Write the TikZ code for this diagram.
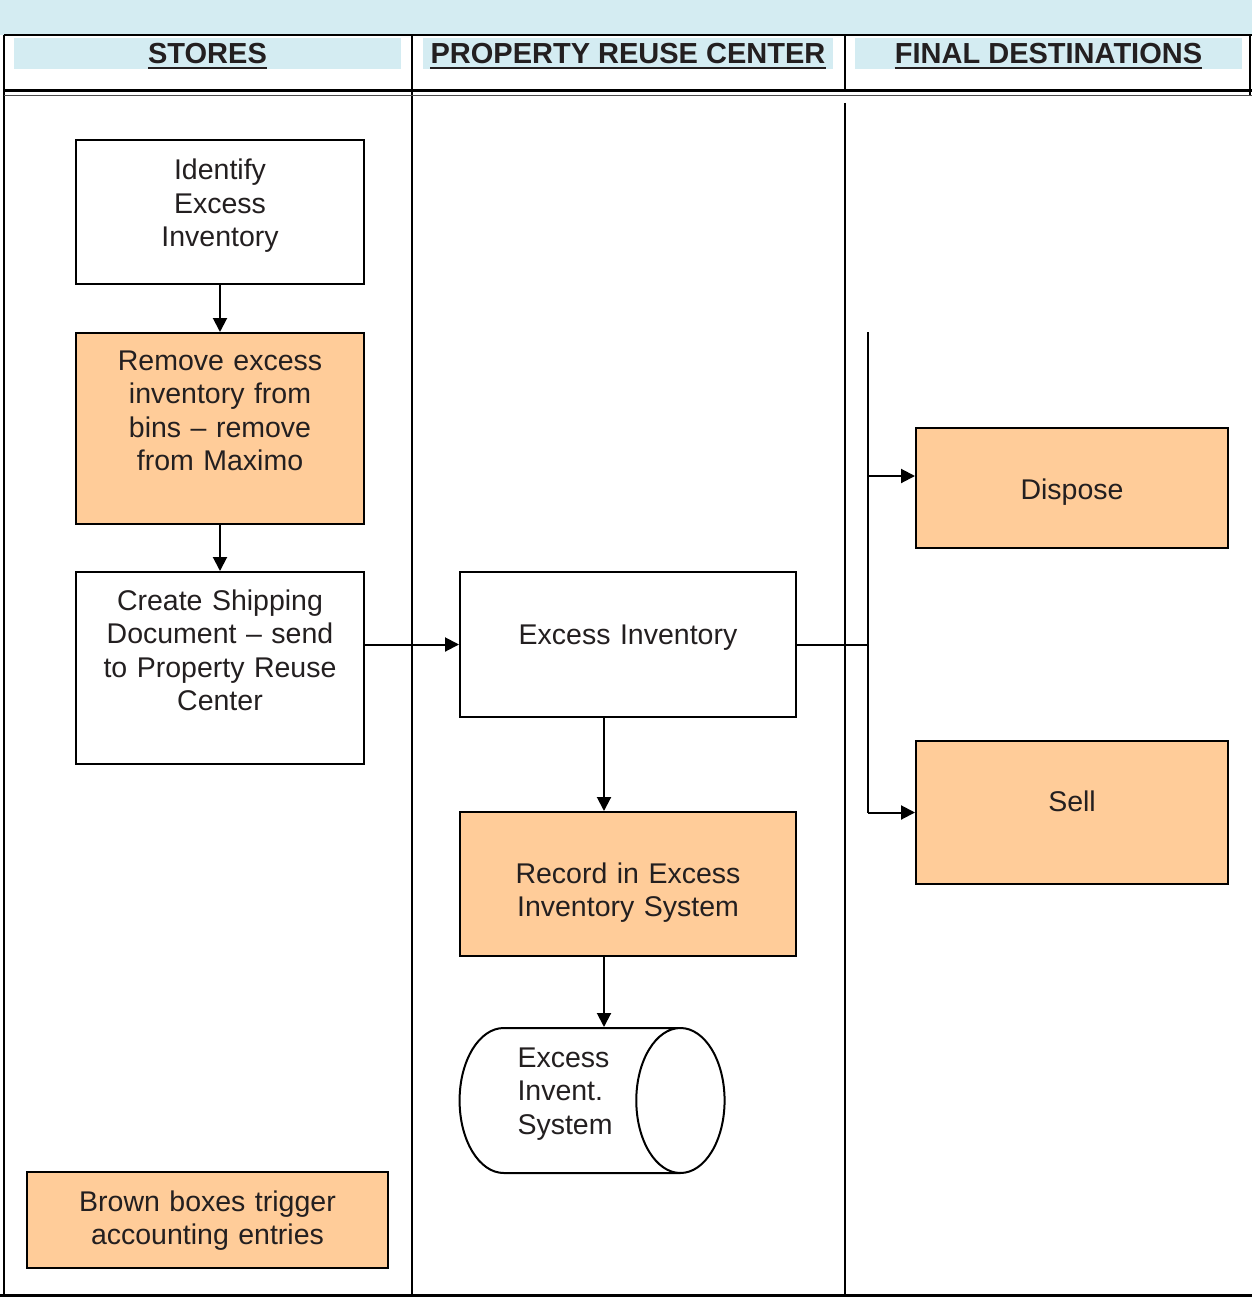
\documentclass[tikz,border=0pt]{standalone}
\usepackage{fontspec}
\setmainfont{Liberation Sans}
\usepackage{xcolor}
\usepackage{tikz}
\usetikzlibrary{shapes.geometric, arrows.meta}

\definecolor{laneblue}{HTML}{D4ECF2}
\definecolor{peach}{HTML}{FFCC99}
\definecolor{ink}{HTML}{231F20}

\tikzset{
	stepbox/.style={draw, line width=2pt, fill=white, text=ink, inner sep=0pt, align=center,
		font=\fontsize{28.5}{33.5}\selectfont},
	costbox/.style={stepbox, fill=peach},
	store/.style={cylinder, draw, line width=2pt, fill=white, text=ink, inner sep=0pt, align=left,
		aspect=0.81, font=\fontsize{28.5}{33.5}\selectfont},
	conn/.style={line width=2pt},
	flow/.style={conn, -{Triangle[length=14pt, width=14pt]}},
	lane/.style={line width=2.4pt},
	title/.style={text=ink, inner sep=0pt, anchor=base, font=\bfseries\fontsize{29}{33}\selectfont},
}

\begin{document}
\begin{tikzpicture}[x=1pt, y=-1pt]
	\def\xL{4};
	\def\xA{412};
	\def\xB{845};
	\def\xR{1250};
	\def\yTop{35};
	\def\yBot{1295};

	\useasboundingbox (0,0) rectangle (1252,1297);

	\begin{scope}
		\fill[laneblue] (0,0) rectangle (1252,\yTop);
		\foreach \xa/\xb/\name/\txt in {14/401/stores/STORES, 423/833/reuse/PROPERTY REUSE CENTER, 855/1242/final/FINAL DESTINATIONS}
		{
			\fill[laneblue] (\xa,38) rectangle (\xb,69);
			\node[title] (\name) at ({(\xa+\xb)/2},64) {\txt};
			\draw[line width=2.6pt, ink] ([yshift=-4pt]\name.base west) -- ([yshift=-4pt]\name.base east);
		}
	\end{scope}

	\begin{scope}[lane]
		\draw (\xL,\yTop) -- (1252,\yTop);
		\draw (\xL,\yTop) -- (\xL,\yBot);
		\draw (\xR,\yTop) -- (\xR,95);
		\draw (\xA,\yTop) -- (\xA,\yBot);
		\draw (\xB,\yTop) -- (\xB,91);
		\draw (\xB,103) -- (\xB,\yBot);
		\draw[line width=3pt] (\xL,90.5) -- (1252,90.5);
		\draw[line width=1.5pt, black!70] (\xL,95.5) -- (1252,95.5);
		\draw[line width=3pt] (0,\yBot) -- (1252,\yBot);
	\end{scope}

	\node[stepbox, minimum width=288, minimum height=144, text width=280, text height=21, text depth=85] (identify) at (220,212) {Identify\\Excess\\Inventory};
	\node[costbox, minimum width=288, minimum height=191, text width=280, text height=21, text depth=138] (remove) at (220,428.5) {Remove excess\\inventory from\\bins -- remove\\from Maximo};
	\node[stepbox, minimum width=288, minimum height=192, text width=280, text height=21, text depth=137] (create) at (220,668) {Create Shipping\\Document -- send\\to Property Reuse\\Center};
	\node[stepbox, minimum width=336, minimum height=145, text width=320, text height=21, text depth=22] (excess) at (628,644.5) {Excess Inventory};
	\node[costbox, minimum width=336, minimum height=144, text width=320, text height=21, text depth=23] (record) at (628,884) {Record in Excess\\Inventory System};
	\node[store, minimum width=145, minimum height=265, text width=104, text height=21, text depth=88] (ledger) at (569.5,1100.5) {Excess\\Invent.\\System};
	\node[costbox, minimum width=312, minimum height=120, text width=300, text height=22, text depth=0] (dispose) at (1072,488) {Dispose};
	\node[costbox, minimum width=312, minimum height=143, text width=300, text height=21, text depth=24] (sell) at (1072,812.5) {Sell};
	\node[costbox, minimum width=361, minimum height=96, text width=350, text height=21, text depth=39] (legend) at (207.5,1220) {Brown boxes trigger\\accounting entries};

	\begin{scope}
		\coordinate (drop) at ([xshift=-24pt]excess.south);
		\coordinate (feed) at ([xshift=-24pt]record.south);
		\coordinate (bus) at (868,332);
		\coordinate (dspin) at ([yshift=12pt]dispose.west);

		\draw[flow] (identify) -- (remove);
		\draw[flow] (remove) -- (create);
		\draw[flow] (create.east |- excess.west) -- (excess.west);
		\draw[flow] (drop) -- (drop |- record.north);
		\draw[flow] (feed) -- (feed |- ledger.north);
		\draw[conn] (excess.east) -- (bus |- excess.east);
		\draw[conn] (bus) -- (bus |- sell.west);
		\draw[flow] (bus |- dspin) -- (dspin);
		\draw[flow] (bus |- sell.west) -- (sell.west);
	\end{scope}
\end{tikzpicture}
\end{document}
